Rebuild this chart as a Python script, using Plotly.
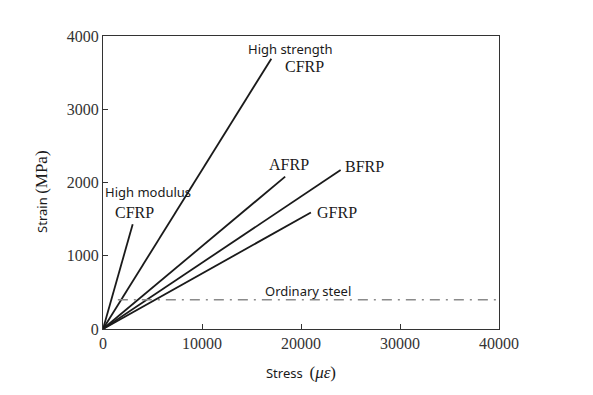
import plotly.graph_objects as go

# Data
materials = ["High modulus CFRP", "High strength CFRP", "AFRP", "BFRP", "GFRP"]
end_strain = [3000, 17000, 18400, 24000, 21000]   # x values (με)
end_stress = [1430, 3690, 2080, 2170, 1590]       # y values (MPa)
steel_x = [1500, 40000]
steel_y = [400, 400]

x_ticks = [0, 10000, 20000, 30000, 40000]
y_ticks = [0, 1000, 2000, 3000, 4000]

fig = go.Figure()
for name, xe, ye in zip(materials, end_strain, end_stress):
    fig.add_trace(go.Scatter(x=[0, xe], y=[0, ye], mode="lines", name=name,
                             line=dict(color="#1a1a1a", width=1.8), showlegend=False))
fig.add_trace(go.Scatter(x=steel_x, y=steel_y, mode="lines", name="Ordinary steel",
                         line=dict(color="#8a8a8a", width=1.6, dash="10px,6px,2px,6px"),
                         showlegend=False))

serif = "Liberation Serif, Times New Roman, serif"
sans = "Noto Sans, Open Sans, sans-serif"

annots = [
    ("High strength", 18890, 3822, sans, 13),
    ("CFRP", 20400, 3590, serif, 16),
    ("AFRP", 18790, 2245, serif, 16),
    ("BFRP", 26460, 2212, serif, 16),
    ("GFRP", 23640, 1597, serif, 16),
    ("High modulus", 4545, 1870, sans, 13),
    ("CFRP", 3230, 1584, serif, 16),
    ("Ordinary steel", 20700, 519, sans, 13),
]
for t, x, y, f, s in annots:
    fig.add_annotation(x=x, y=y, text=t, showarrow=False,
                       font=dict(family=f, size=s, color="#1a1a1a"))

# Y axis title placed as rotated annotation
fig.add_annotation(xref="paper", yref="paper", x=0, y=0.468, xanchor="center", yanchor="middle",
                   xshift=-61, textangle=-90, showarrow=False,
                   text="Strain <span style='font-family:Liberation Serif;font-size:17px'>(MPa)</span>",
                   font=dict(family=sans, size=13, color="#1a1a1a"))

fig.update_layout(
    width=593, height=395,
    margin=dict(l=95, r=102, t=28, b=74),
    plot_bgcolor="white", paper_bgcolor="white",
    xaxis=dict(range=[0, 40000], tickvals=x_ticks, ticktext=[str(v) for v in x_ticks],
               ticks="inside", ticklen=5, tickcolor="#333", showline=True, linecolor="#333",
               linewidth=1.3, mirror=True, showgrid=False, zeroline=False,
               tickfont=dict(family=serif, size=16, color="#333"),
               title=dict(text="Stress  <span style='font-family:Liberation Serif;font-size:17px'>(<i>με</i>)</span>",
                          font=dict(family=sans, size=13, color="#1a1a1a"), standoff=17)),
    yaxis=dict(range=[0, 4000], tickvals=y_ticks, ticktext=[str(v) for v in y_ticks],
               ticks="inside", ticklen=5, tickcolor="#333", showline=True, linecolor="#333",
               linewidth=1.3, mirror=True, showgrid=False, zeroline=False,
               tickfont=dict(family=serif, size=16, color="#333")),
)

fig.write_html("out.html")
